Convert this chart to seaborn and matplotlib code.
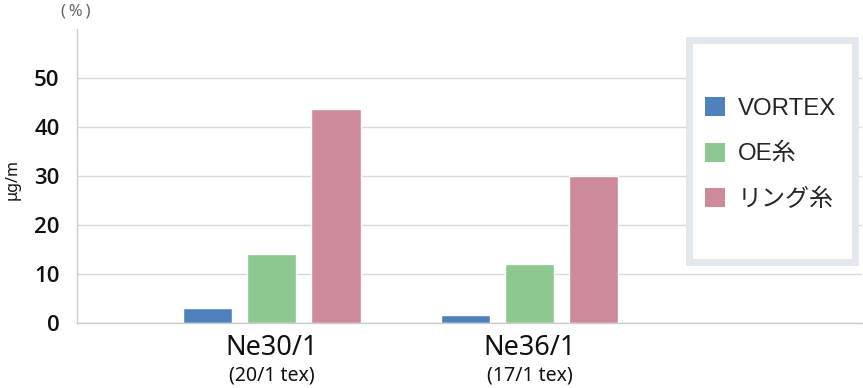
import matplotlib
matplotlib.use("Agg")
import matplotlib.pyplot as plt
import seaborn as sns
import pandas as pd
from matplotlib.patches import Rectangle, Patch

categories = ["Ne30/1", "Ne36/1"]
subtitles = ["(20/1 tex)", "(17/1 tex)"]
series = ["VORTEX", "OE糸", "リング糸"]
yticks = [0, 10, 20, 30, 40, 50]
vortex = [3.0, 1.6]
oe = [14.0, 12.0]
ring = [43.7, 30.0]
colors = ["#4f81bd", "#8dc891", "#cd8a9a"]

df = pd.DataFrame({
    "cat": categories * 3,
    "series": [s for s in series for _ in categories],
    "value": vortex + oe + ring,
})

sns.set_theme(style="white")
plt.rcParams['font.family'] = ['Noto Sans', 'Noto Sans CJK JP', 'DejaVu Sans']

fig = plt.figure(figsize=(8.63, 3.88), dpi=100)
ax = fig.add_axes([77/863, 1 - 323/388, (862-77)/863, (323-29)/388])

sns.barplot(data=df, x="cat", y="value", hue="series", palette=colors,
            width=0.747, gap=0.235, ax=ax, legend=False, saturation=1)

ax.set_xlim(-0.756, 2.29)
ax.set_ylim(0, 60)
ax.grid(axis="y", color="#d9d9d9", linewidth=1)
ax.set_axisbelow(True)
for s in ["top", "right"]:
    ax.spines[s].set_visible(False)
for s in ["left", "bottom"]:
    ax.spines[s].set_color("#cccccc")
    ax.spines[s].set_linewidth(1)
ax.tick_params(axis="both", length=0)
ax.tick_params(axis="y", pad=12.5)
ax.set_xlabel("")
ax.set_ylabel("")
ax.set_yticks(yticks)
ax.set_yticklabels([str(v) for v in yticks], fontsize=16, color="#111111",
                   family=["Open Sans", "Noto Sans"], fontweight=600)
ax.set_xticks(range(len(categories)))
ax.set_xticklabels(categories, fontsize=19.5, color="#111111")
ax.tick_params(axis="x", pad=8)
for i, sub in enumerate(subtitles):
    ax.text(i, -0.18, sub, transform=ax.get_xaxis_transform(), ha="center",
            va="center", fontsize=14, color="#111111")

fig.text(76/863, 1 - 11/388, "(\u2009%\u2009)", ha="center", va="center",
         fontsize=12, color="#666666")
fig.text(13/863, 1 - 180/388, "μg/m", ha="center", va="center", rotation=90,
         fontsize=11.5, color="#111111")

# legend frame
rect = Rectangle((689/863, 1 - 262/388), (855-689)/863, (262-40)/388,
                 transform=fig.transFigure, facecolor="white", edgecolor="#e3e8ef",
                 linewidth=5, zorder=5)
fig.patches.append(rect)
handles = [Patch(facecolor=c, edgecolor="none") for c in colors]
leg = fig.legend(handles, series, loc="center left", bbox_to_anchor=(705/863, 1 - 154/388),
                 frameon=False, handlelength=0.85, handleheight=0.85, handletextpad=0.5,
                 labelspacing=0.95, borderaxespad=0, borderpad=0,
                 prop={"family": ["Liberation Sans", "Noto Sans CJK JP"], "size": 17.3})
leg.set_zorder(6)

fig.savefig("out.png", dpi=100)
